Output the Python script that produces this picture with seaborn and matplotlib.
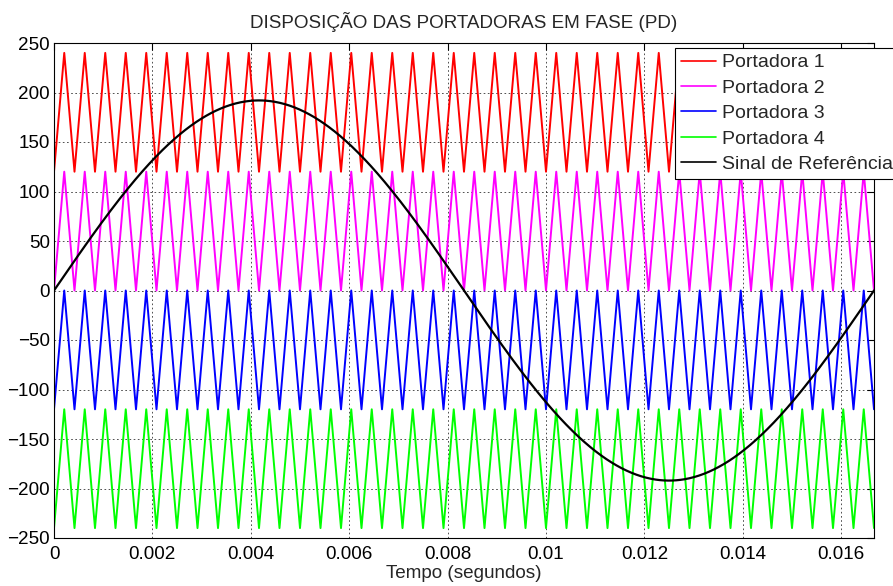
import numpy as np
import pandas as pd
import matplotlib
matplotlib.use("Agg")
import matplotlib.pyplot as plt
import seaborn as sns

# ---- data ----
carrier_names = ["Portadora 1", "Portadora 2", "Portadora 3", "Portadora 4"]
carrier_low = [120, 0, -120, -240]
carrier_high = [240, 120, 0, -120]
carrier_colors = ["#ff0000", "#ff00ff", "#0000ff", "#00ff00"]
carrier_periods = 40          # triangles within one reference period
ref_name = "Sinal de Referência"
ref_amplitude = 192
ref_freq = 60.0
x_ticks = [0, 0.002, 0.004, 0.006, 0.008, 0.01, 0.012, 0.014, 0.016]
x_ticklabels = ["0", "0.002", "0.004", "0.006", "0.008", "0.01", "0.012", "0.014", "0.016"]
y_ticks = [-250, -200, -150, -100, -50, 0, 50, 100, 150, 200, 250]

T_end = 1.0 / ref_freq
# carrier vertices (troughs and peaks alternate)
t_vert = np.linspace(0, T_end, 2 * carrier_periods + 1)
phase = np.arange(len(t_vert)) % 2   # 0 = trough, 1 = peak
t_ref = np.linspace(0, T_end, 1000)
v_ref = ref_amplitude * np.sin(2 * np.pi * ref_freq * t_ref)

frames = []
for name, lo, hi in zip(carrier_names, carrier_low, carrier_high):
    frames.append(pd.DataFrame({"t": t_vert, "v": lo + (hi - lo) * phase, "serie": name}))
df_car = pd.concat(frames, ignore_index=True)
df_ref = pd.DataFrame({"t": t_ref, "v": v_ref, "serie": ref_name})

# ---- plot ----
sns.set_theme(style="white")
plt.rcParams["font.family"] = ["Liberation Sans", "DejaVu Sans"]
FS = 13.6

fig = plt.figure(figsize=(8.93, 5.86), dpi=100)
ax = fig.add_axes([54 / 893, 1 - 538 / 586, (874 - 54) / 893, (538 - 43) / 586])

for name, col in zip(carrier_names, carrier_colors):
    sns.lineplot(data=df_car[df_car["serie"] == name], x="t", y="v", color=col,
                 lw=1.4, ax=ax, label=name, sort=False, estimator=None)
sns.lineplot(data=df_ref, x="t", y="v", color="black", lw=1.6, ax=ax,
             label=ref_name, sort=False, estimator=None)

ax.set_xlim(0, T_end)
ax.set_ylim(-250, 250)
ax.set_xticks(x_ticks)
ax.set_xticklabels(x_ticklabels)
ax.set_yticks(y_ticks)
ax.tick_params(direction="in", length=5, width=0.8, colors="black",
               labelsize=FS, top=True, right=True, pad=3)
ax.tick_params(axis="x", pad=6)
ax.grid(True, color="black", linestyle=(0, (2, 3)), linewidth=0.6, alpha=0.8)
for s in ax.spines.values():
    s.set_color("black")
    s.set_linewidth(0.8)
ax.set_xlabel("Tempo (segundos)", fontsize=FS, labelpad=1)
ax.set_ylabel("")
ax.set_title("DISPOSIÇÃO DAS PORTADORAS EM FASE (PD)", fontsize=FS, pad=11)

leg = ax.legend(loc="upper left", bbox_to_anchor=(675 / 893, 1 - 48 / 586),
                bbox_transform=fig.transFigure, fontsize=14, frameon=True,
                fancybox=False, framealpha=1, edgecolor="black",
                handlelength=1.8, handletextpad=0.3, labelspacing=0.4,
                borderpad=0.3, borderaxespad=0)
leg.get_frame().set_linewidth(0.8)
for h in leg.get_lines():
    h.set_linewidth(1.2)

fig.savefig("out.png", dpi=100)
